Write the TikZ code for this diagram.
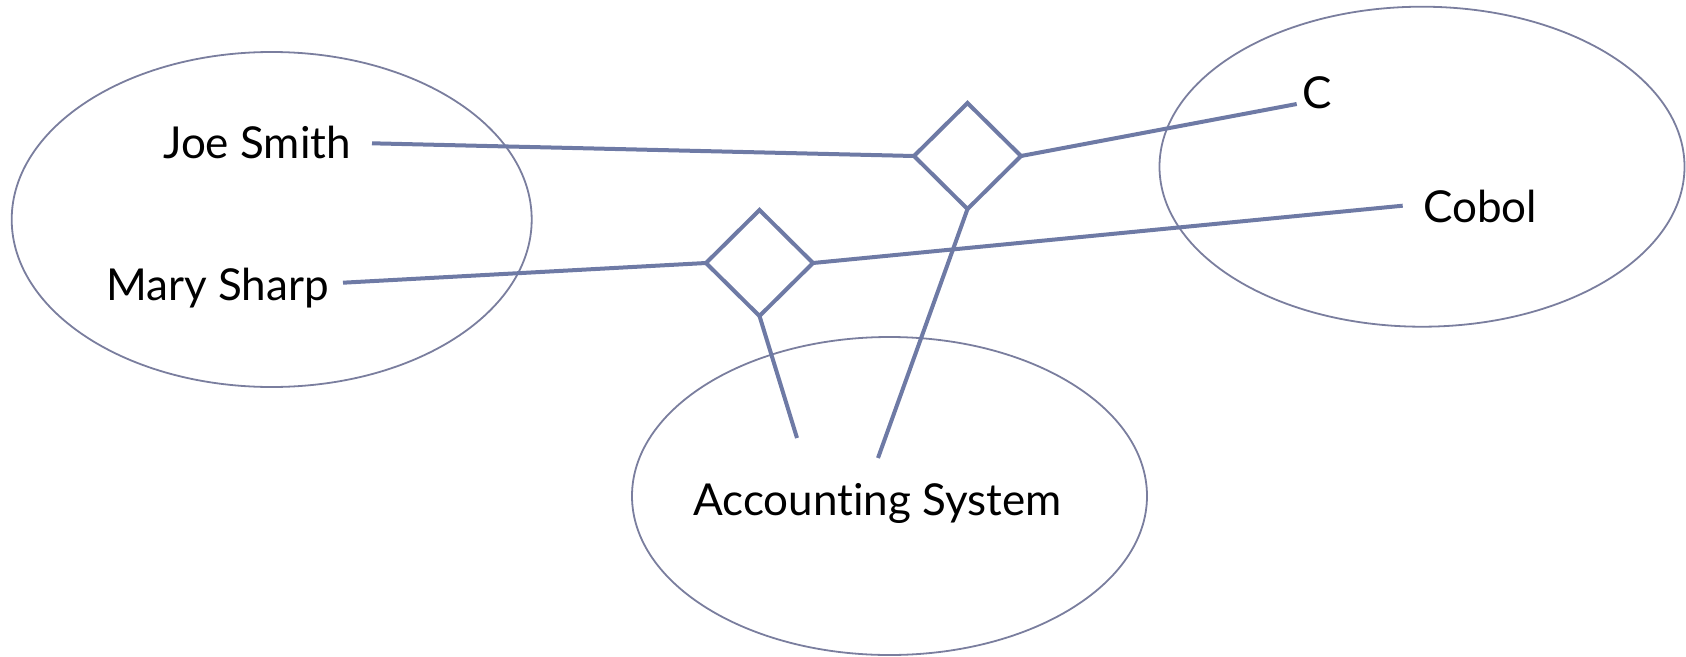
\documentclass[tikz,border=0pt]{standalone}
\usepackage{fontspec}
\setmainfont{Lato}[Ligatures=NoCommon]
\usetikzlibrary{shapes.geometric}
\definecolor{rimcol}{RGB}{122,126,158}
\definecolor{linkcol}{RGB}{110,122,165}
\begin{document}
\begin{tikzpicture}[x=1pt,y=-1pt,
  setbox/.style={ellipse,draw=rimcol,line width=1.8pt,inner sep=0pt,outer sep=0pt},
  membertext/.style={anchor=base west,inner sep=0pt,font=\fontsize{44}{52}\selectfont},
  relbox/.style={diamond,draw=linkcol,line width=4pt,inner sep=0pt,outer sep=0pt,
    minimum width=107pt,minimum height=106pt},
  connector/.style={draw=linkcol,line width=4pt}]
\useasboundingbox (0,0) rectangle (1686,656);
% three sets
\node[setbox,minimum width=520pt,minimum height=335pt] (people) at (271.7,219.5) {};
\node[setbox,minimum width=525pt,minimum height=320pt] (langs) at (1422,166.7) {};
\node[setbox,minimum width=515pt,minimum height=318pt] (systems) at (889.5,496) {};
% members
\node[membertext] (joe) at (163,158) {Joe Smith};
\node[membertext] (mary) at (106,300) {Mary Sharp};
\node[membertext] (c) at (1302,108) {C};
\node[membertext] (cobol) at (1423,222) {Cobol};
\node[membertext] (acct) at (693,515) {Accounting System};
% ternary relationship instances
\node[relbox] (r1) at (967.5,156) {};
\node[relbox] (r2) at (759.5,263) {};
% link ends next to the members
\coordinate (joeEnd) at (372,143.3);
\coordinate (maryEnd) at (343,282.7);
\coordinate (cEnd) at (1296.7,104);
\coordinate (cobolEnd) at (1402.7,205.7);
\coordinate (acctA) at (797,438);
\coordinate (acctB) at (878,458);
% links
\draw[connector] (r1.west) -- (joeEnd);
\draw[connector] (r1.east) -- (cEnd);
\draw[connector] (r1.south) -- (acctB);
\draw[connector] (r2.west) -- (maryEnd);
\draw[connector] (r2.east) -- (cobolEnd);
\draw[connector] (r2.south) -- (acctA);
\end{tikzpicture}
\end{document}
